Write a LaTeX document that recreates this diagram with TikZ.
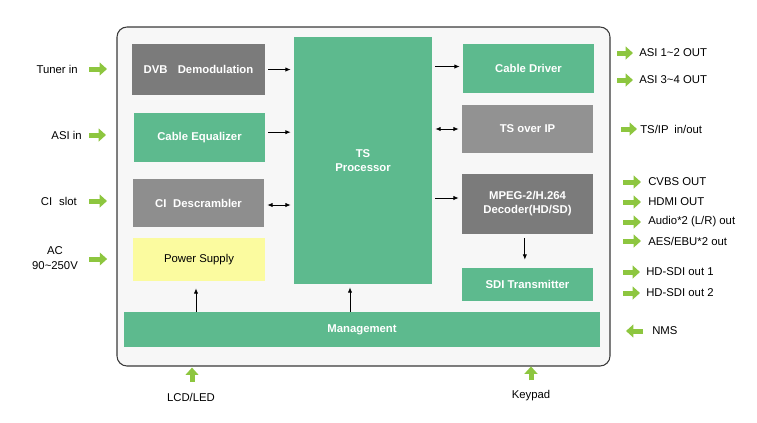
\documentclass[tikz,border=0pt]{standalone}
\usepackage{fontspec}
\setmainfont{Liberation Sans}
\usetikzlibrary{arrows.meta}
\definecolor{boxgreen}{HTML}{5DBA8E}
\definecolor{greyA}{HTML}{7B7B7B}
\definecolor{greyB}{HTML}{8E8E8E}
\definecolor{greyC}{HTML}{929292}
\definecolor{boxyellow}{HTML}{FBFB9F}
\definecolor{arrowgreen}{HTML}{8DC63F}
\definecolor{boardfill}{HTML}{F7F7F7}
\definecolor{boardline}{HTML}{3A3A3A}
\begin{document}
\begin{tikzpicture}[x=0.75pt,y=-0.75pt,
    font=\fontsize{8.5}{11}\selectfont,
    blk/.style={fill=boxgreen,text=white,align=center,inner sep=0pt,
        font=\fontsize{8.5}{10.5}\selectfont\bfseries},
    boxsize/.style 2 args={minimum width=#1*0.75pt,minimum height=#2*0.75pt},
    lbl/.style={inner sep=0pt,align=center},
    link/.style={-{Latex[length=4pt,width=3.2pt]},line width=0.6pt,
        shorten <=2.25pt,shorten >=2.25pt},
    twoway/.style={{Latex[length=4pt,width=3.2pt]}-{Latex[length=4pt,width=3.2pt]},
        line width=0.6pt,shorten <=2.25pt,shorten >=2.25pt},
    garrow/.style={draw=arrowgreen,line width=3.75pt,
        -{Triangle[length=5.5pt,width=9.5pt]}}]
    \useasboundingbox (0,0) rectangle (757,422);
    %% Board
    \draw[fill=boardfill,draw=boardline,line width=0.8pt,rounded corners=7.5pt]
        (117,27) rectangle (610,366);
    %% Left column
    \node[blk,boxsize={133}{51},fill=greyA] (dvb) at (198.5,69.5)
        {DVB\hspace{0.9em}Demodulation};
    \node[blk,boxsize={131}{49}] (equal) at (199.5,137.5) {Cable Equalizer};
    \node[blk,boxsize={131}{48},fill=greyB] (descr) at (198.5,203)
        {CI\hspace{0.6em}Descrambler};
    \node[blk,boxsize={132}{43},fill=boxyellow,text=black,font=\fontsize{8.5}{10.5}\selectfont]
        (power) at (199,259.5) {Power Supply};
    %% Middle
    \node[blk,boxsize={138}{247}] (tsp) at (363,160.5) {TS\\Processor};
    %% Right column
    \node[blk,boxsize={131}{49}] (driver) at (528.5,68.5) {Cable Driver};
    \node[blk,boxsize={131}{48},fill=greyC] (tsip) at (527.5,129) {TS over IP};
    \node[blk,boxsize={131}{60},fill=greyA] (mpeg) at (527.5,204)
        {MPEG-2/H.264\\Decoder(HD/SD)};
    \node[blk,boxsize={131}{33}] (sdi) at (527.5,284.5) {SDI Transmitter};
    %% Bottom
    \node[blk,boxsize={476}{35}] (mgmt) at (362,329.5) {Management};
    %% Inner links
    \draw[link] (dvb.east) -- (dvb.east -| tsp.west);
    \draw[link] ([yshift=4pt]equal.east) -- ([yshift=4pt]equal.east -| tsp.west);
    \draw[twoway] ([yshift=-1.5pt]descr.east) -- ([yshift=-1.5pt]descr.east -| tsp.west);
    \draw[link] ([yshift=1.5pt]driver.west -| tsp.east) -- ([yshift=1.5pt]driver.west);
    \draw[twoway] (tsip.west -| tsp.east) -- (tsip.west);
    \draw[link] ([yshift=4.5pt]mpeg.west -| tsp.east) -- ([yshift=4.5pt]mpeg.west);
    \draw[link,shorten <=3pt,shorten >=6pt] ([xshift=-2pt]mpeg.south) -- ([xshift=-2pt]sdi.north);
    \draw[link,shorten <=0pt,shorten >=5.25pt]
        ([xshift=-2.25pt]power.south |- mgmt.north) -- ([xshift=-2.25pt]power.south);
    \draw[link,shorten <=0pt,shorten >=2.25pt]
        ([xshift=-9.75pt]tsp.south |- mgmt.north) -- ([xshift=-9.75pt]tsp.south);
    %% Inputs
    \node[lbl,anchor=east] (tuner) at (78,69) {Tuner in};
    \draw[garrow] (tuner.east) ++(11,0) -- ++(18,0);
    \node[lbl,anchor=east] (asiin) at (82,135) {ASI in};
    \draw[garrow] (asiin.east) ++(7,0) -- ++(17,0);
    \node[lbl,anchor=east] (cislot) at (77,201) {CI\hspace{0.6em}slot};
    \draw[garrow] (cislot.east) ++(12,0) -- ++(18,0);
    \node[lbl] (ac) at (55,258) {AC\\90\textasciitilde250V};
    \draw[garrow] (ac.east) ++(11,1) -- ++(18,0);
    %% Outputs
    \foreach \n/\y/\t in {asia/53/{ASI 1\textasciitilde2 OUT},asib/80/{ASI 3\textasciitilde4 OUT}}
    {
        \node[lbl,anchor=west] (\n) at (639,\y) {\t};
        \draw[garrow] (\n.west) ++(-22,0) -- ++(16,0);
    }
    \node[lbl,anchor=west] (tsipio) at (640,129) {TS/IP\hspace{0.5em}in/out};
    \draw[garrow] (tsipio.west) ++(-19,0) -- ++(16,0);
    \foreach \n/\y/\t in {cvbs/182/{CVBS OUT},hdmi/202/{HDMI OUT},
        audio/222/{Audio*2 (L/R) out},aes/241/{AES/EBU*2 out}}
    {
        \node[lbl,anchor=west] (\n) at (648,\y) {\t};
        \draw[garrow] (\n.west) ++(-25,0) -- ++(18,0);
    }
    \foreach \n/\y/\t in {sdia/272/{HD-SDI out 1},sdib/293/{HD-SDI out 2}}
    {
        \node[lbl,anchor=west] (\n) at (646,\y) {\t};
        \draw[garrow] (\n.west) ++(-23,0) -- ++(17,0);
    }
    \node[lbl,anchor=west] (nms) at (652,331) {NMS};
    \draw[garrow] (nms.west) ++(-9,0) -- ++(-17,0);
    %% Front panel
    \node[lbl] (lcd) at (191,397) {LCD/LED};
    \draw[garrow] (lcd.north) ++(1,-11) -- ++(0,-14);
    \node[lbl] (keypad) at (531,396) {Keypad};
    \draw[garrow] (keypad.north) ++(0,-10) -- ++(0,-14);
\end{tikzpicture}
\end{document}
